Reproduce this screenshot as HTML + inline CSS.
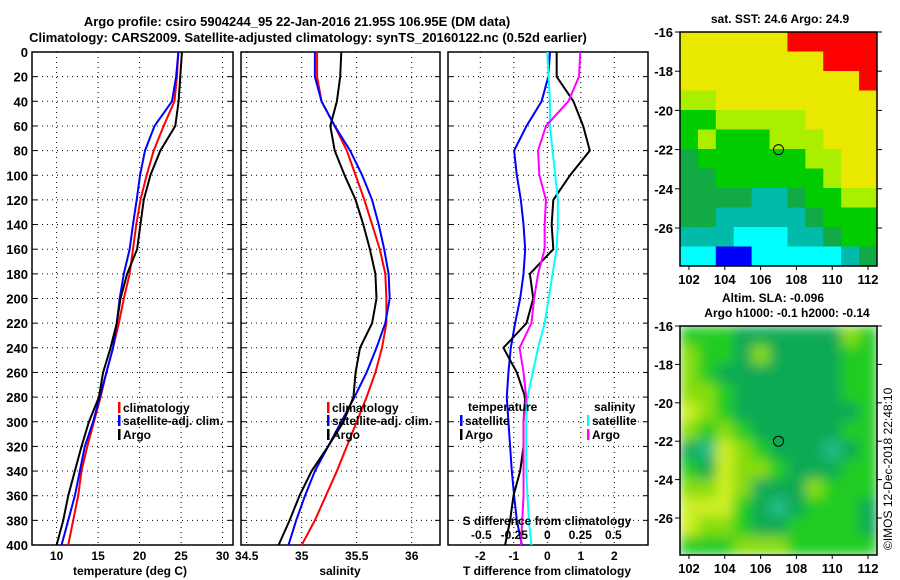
<!DOCTYPE html>
<html><head><meta charset="utf-8"><style>
body{margin:0;background:#fff;}
svg{display:block;font-family:"Liberation Sans",sans-serif;font-weight:bold;}
</style></head><body>
<svg id="c" width="900" height="580" viewBox="0 0 900 580">
<text x="297" y="26" text-anchor="middle" font-size="13">Argo profile: csiro 5904244_95 22-Jan-2016 21.95S 106.95E (DM data)</text>
<text x="308" y="42" text-anchor="middle" font-size="13">Climatology: CARS2009. Satellite-adjusted climatology: synTS_20160122.nc (0.52d earlier)</text>
<text x="892" y="550" font-size="12" font-weight="normal" transform="rotate(-90 892 550)">©IMOS 12-Dec-2018 22:48:10</text>
</svg>
<script>
const depths=[0,20,40,60,80,100,120,140,160,180,200,220,240,260,280,300,320,340,360,380,400];
const tClim=[24.67,24.5,24.2,22.9,21.7,20.85,20.1,19.6,19.2,18.8,18.1,17.5,16.8,16.0,15.3,14.5,13.7,13.0,12.6,12.0,11.4];
const tSat=[24.67,24.4,23.9,21.8,20.65,20.05,19.65,19.2,18.8,18.1,17.6,17.25,16.8,16.0,15.2,14.4,13.4,12.8,12.2,11.4,10.6];
const tArgo=[25.1,24.9,24.7,24.3,22.5,21.3,20.5,20.1,19.7,18.5,17.7,17.25,16.5,15.6,15.1,13.9,13.0,12.2,11.4,10.8,10.0];
const sClim=[35.14,35.14,35.18,35.3,35.41,35.49,35.57,35.64,35.71,35.76,35.77,35.77,35.73,35.67,35.59,35.5,35.41,35.32,35.22,35.12,35.0];
const sSat=[35.12,35.12,35.18,35.3,35.44,35.55,35.64,35.7,35.75,35.79,35.8,35.76,35.68,35.59,35.48,35.36,35.24,35.12,35.03,34.95,34.88];
const sArgo=[35.36,35.35,35.32,35.26,35.3,35.39,35.49,35.56,35.62,35.67,35.68,35.64,35.53,35.49,35.47,35.38,35.24,35.09,34.98,34.89,34.79];
const dTSat=[0.08,0.03,-0.17,-0.62,-0.99,-0.91,-0.79,-0.71,-0.66,-0.71,-0.81,-0.96,-1.09,-1.16,-1.21,-1.16,-1.11,-1.06,-0.99,-0.91,-0.76];
const dTArgo=[0.28,0.28,0.78,1.07,1.27,0.68,0.18,0.13,0.18,-0.52,-0.42,-0.62,-1.31,-0.91,-0.66,-0.71,-0.71,-0.81,-1.01,-1.11,-1.26];
const dSSat=[0,0.01,0.02,0.02,0.04,0.06,0.08,0.08,0.07,0.04,0.01,-0.02,-0.07,-0.11,-0.15,-0.16,-0.16,-0.16,-0.15,-0.14,-0.12];
const dSArgo=[0.25,0.24,0.16,-0.01,-0.07,-0.06,-0.01,-0.02,-0.02,-0.07,-0.1,-0.12,-0.21,-0.18,-0.16,-0.18,-0.18,-0.18,-0.18,-0.19,-0.2];
const tTicks=[10,15,20,25,30];
const sTicks=[34.5,35,35.5,36];
const dTTicks=[-2,-1,0,1,2];
const dSTicks=[-0.5,-0.25,0,0.25,0.5];
const depthTicks=[0,20,40,60,80,100,120,140,160,180,200,220,240,260,280,300,320,340,360,380,400];
const sstGrid=["YYYYYYRRRRR","YYYYYYYYRRR","YYYYYYYYYYR","LLYYYYYYYYY","GGLLLLLYYYY","GLGGGLLLYYY","DGGGGGGLLYY","DDGGGGGGLYY","DDDDTTDGGLL","DDTTTTTDGGG","TTTCCCTTDGG","CCBBCCCCCTD"];
const slaGrid=["GGGDDDDDDLG","LGGDLDDDDGG","LGDDDDDDDGG","LLGDDDDDDGG","YLGDDDDDDDG","LGLGDDDDDGG","DTYLGDDDTDG","GDYLLGDDDGG","LLYLDDDLGGG","YYYGDTDGGGD","YLLGDDGGGGD","GGGLLLGGGGG"];
const latTicks=[-16,-18,-20,-22,-24,-26];
const lonTicks=[102,104,106,108,110,112];
const argoPos=[107,-22];

const NS="http://www.w3.org/2000/svg", svg=document.getElementById('c');
function mk(t,a,p){const e=document.createElementNS(NS,t);for(const k in a)e.setAttribute(k,a[k]);(p||svg).appendChild(e);return e;}
const Y0=52,Y1=545,yD=d=>Y0+(d/400)*(Y1-Y0);
function panel(name,x0,x1,xs,ticks,fmt){
  const g=mk('g',{});
  
  
  ticks.forEach(t=>{const x=xs(t);
    const l=mk('line',{x1:x,x2:x,y1:Y0,y2:Y1,stroke:'#000','stroke-dasharray':'1,4'},g);
    });
  depthTicks.forEach(d=>{const y=yD(d);
    const l=mk('line',{x1:x0,x2:x1,y1:y,y2:y,stroke:'#000','stroke-dasharray':'1,4'},g);
    
    mk('line',{x1:x0,x2:x0+5,y1:y,y2:y,stroke:'#000'},g);mk('line',{x1:x1-5,x2:x1,y1:y,y2:y,stroke:'#000'},g);});
  const r=mk('rect',{x:x0,y:Y0,width:x1-x0,height:Y1-Y0,fill:'none',stroke:'#000','stroke-width':1.5},g);
  
  if(fmt){ticks.forEach(t=>{const tx=mk('text',{x:xs(t),y:Y1+15,'text-anchor':'middle','font-size':12},g);tx.textContent=fmt(t);
    });}
  return g;
}
function line(g,xs,vals,col,name){
  const p=mk('polyline',{points:vals.map((v,i)=>xs(v)+','+yD(depths[i])).join(' '),fill:'none',stroke:col,'stroke-width':2},g);
  
}
function label(g,x,y,txt,name,anchor,size){const t=mk('text',{x:x,y:y,'font-size':size||12,'text-anchor':anchor||'start'},g);t.textContent=txt;
  return t;}
function leg(g,x,y,col,txt,name){const b=mk('rect',{x:x,y:y-10,width:2.5,height:11,fill:col},g);
  
  label(g,x+5,y,txt,name);}

// panel 1
const xT=v=>56.6+(v-10)*8.3;
const p1=panel('temperature-panel',32,233,xT,tTicks,String);
depthTicks.forEach(d=>label(p1,28,yD(d)+5,String(d),'y-tick-label','end',13));
line(p1,xT,tClim,'#ff0000','temp-climatology-line');
line(p1,xT,tSat,'#0000ff','temp-satellite-line');
line(p1,xT,tArgo,'#000','temp-argo-line');
label(p1,130,575,'temperature (deg C)','x-axis-title','middle');
leg(p1,118,412,'#ff0000','climatology','legend-climatology');
leg(p1,118,425,'#0000ff','satellite-adj. clim.','legend-satellite');
leg(p1,118,439,'#000','Argo','legend-argo');

// panel 2
const xS=v=>301.7+(v-35)*110;
const p2=panel('salinity-panel',241,440,xS,sTicks,String);
line(p2,xS,sClim,'#ff0000','sal-climatology-line');
line(p2,xS,sSat,'#0000ff','sal-satellite-line');
line(p2,xS,sArgo,'#000','sal-argo-line');
label(p2,340,575,'salinity','x-axis-title','middle');
leg(p2,327,412,'#ff0000','climatology','legend-climatology');
leg(p2,327,425,'#0000ff','satellite-adj. clim.','legend-satellite');
leg(p2,327,439,'#000','Argo','legend-argo');

// panel 3
const xDT=v=>547.3+v*33.5, xDS=v=>547.3+v*132;
const p3=panel('difference-panel',448,648,xDT,dTTicks,String);
line(p3,xDT,dTSat,'#0000ff','tdiff-satellite-line');
line(p3,xDT,dTArgo,'#000','tdiff-argo-line');
line(p3,xDS,dSSat,'#00ffff','sdiff-satellite-line');
line(p3,xDS,dSArgo,'#ff00ff','sdiff-argo-line');
dSTicks.forEach(t=>label(p3,xDS(t),539,String(t),'s-tick-label','middle'));
label(p3,547,525,'S difference from climatology','s-axis-title','middle');
label(p3,547,575,'T difference from climatology','x-axis-title','middle');
label(p3,468,411,'temperature','legend-temp-header');
leg(p3,460,425,'#0000ff','satellite','legend-t-satellite');
leg(p3,460,439,'#000','Argo','legend-t-argo');
label(p3,594,411,'salinity','legend-sal-header');
leg(p3,587,425,'#00ffff','satellite','legend-s-satellite');
leg(p3,587,439,'#ff00ff','Argo','legend-s-argo');

// maps
const defs=mk('defs',{});const f=mk('filter',{id:'bl',x:'-10%',y:'-10%',width:'120%',height:'120%'},defs);mk('feGaussianBlur',{stdDeviation:6,edgeMode:'duplicate'},f);
function map(name,grid,pal,x0,x1,top,bot,pxDeg,title,blur){
  const g=mk('g',{});
  
  const lonX=l=>x0+(l-101.5)/11*(x1-x0), latY=l=>top+(-16-l)*pxDeg;
  const cpId='cp'+name;const cp=mk('clipPath',{id:cpId},defs);mk('rect',{x:x0,y:top,width:x1-x0,height:bot-top},cp);
  const outer=mk('g',{'clip-path':'url(#'+cpId+')'},g);
  const cg=mk('g',blur?{filter:'url(#bl)'}:{},outer);
  const cw=(x1-x0)/grid[0].length, ch=(bot-top)/grid.length;
  grid.forEach((row,r)=>[...row].forEach((k,c)=>{
    const e=mk('rect',{x:x0+c*cw,y:top+r*ch,width:cw+0.5,height:ch+0.5,fill:pal[k]},cg);
    }));
  const cl=mk('rect',{x:x0,y:top,width:x1-x0,height:bot-top,fill:'none',stroke:'#000','stroke-width':1.5},g);
  
  latTicks.forEach(l=>{const y=latY(l);mk('line',{x1:x0-5,x2:x0,y1:y,y2:y,stroke:'#000'},g);mk('line',{x1:x1,x2:x1+5,y1:y,y2:y,stroke:'#000'},g);
    label(g,x0-7,y+5,String(l),'lat-tick-label','end',13);});
  lonTicks.forEach(l=>{const x=lonX(l);mk('line',{x1:x,x2:x,y1:bot,y2:bot+4,stroke:'#000'},g);
    label(g,x,bot+18,String(l),'lon-tick-label','middle',13);});
  const ci=mk('circle',{cx:lonX(argoPos[0]),cy:latY(argoPos[1]),r:5,fill:'none',stroke:'#000'},g);
  
  title.forEach((t,i)=>label(g,title.length==1?780:773+i*14,title.length==1?top-9:top-24+i*15,t,'map-title','middle',12));
}
map('sst-map',sstGrid,{R:'#ff0000',Y:'#e8e800',L:'#aaee00',G:'#00cc00',D:'#11aa44',T:'#00bbaa',C:'#00ffff',B:'#0000ff'},680,877,32,266,19.6,['sat. SST: 24.6 Argo: 24.9'],false);
map('sla-map',slaGrid,{G:'#22cc22',D:'#11aa55',L:'#88dd11',Y:'#ccee22',T:'#22bb88'},680,877,326,555,19.2,['Altim. SLA: -0.096','Argo h1000: -0.1 h2000: -0.14'],true);
</script>
</body></html>
